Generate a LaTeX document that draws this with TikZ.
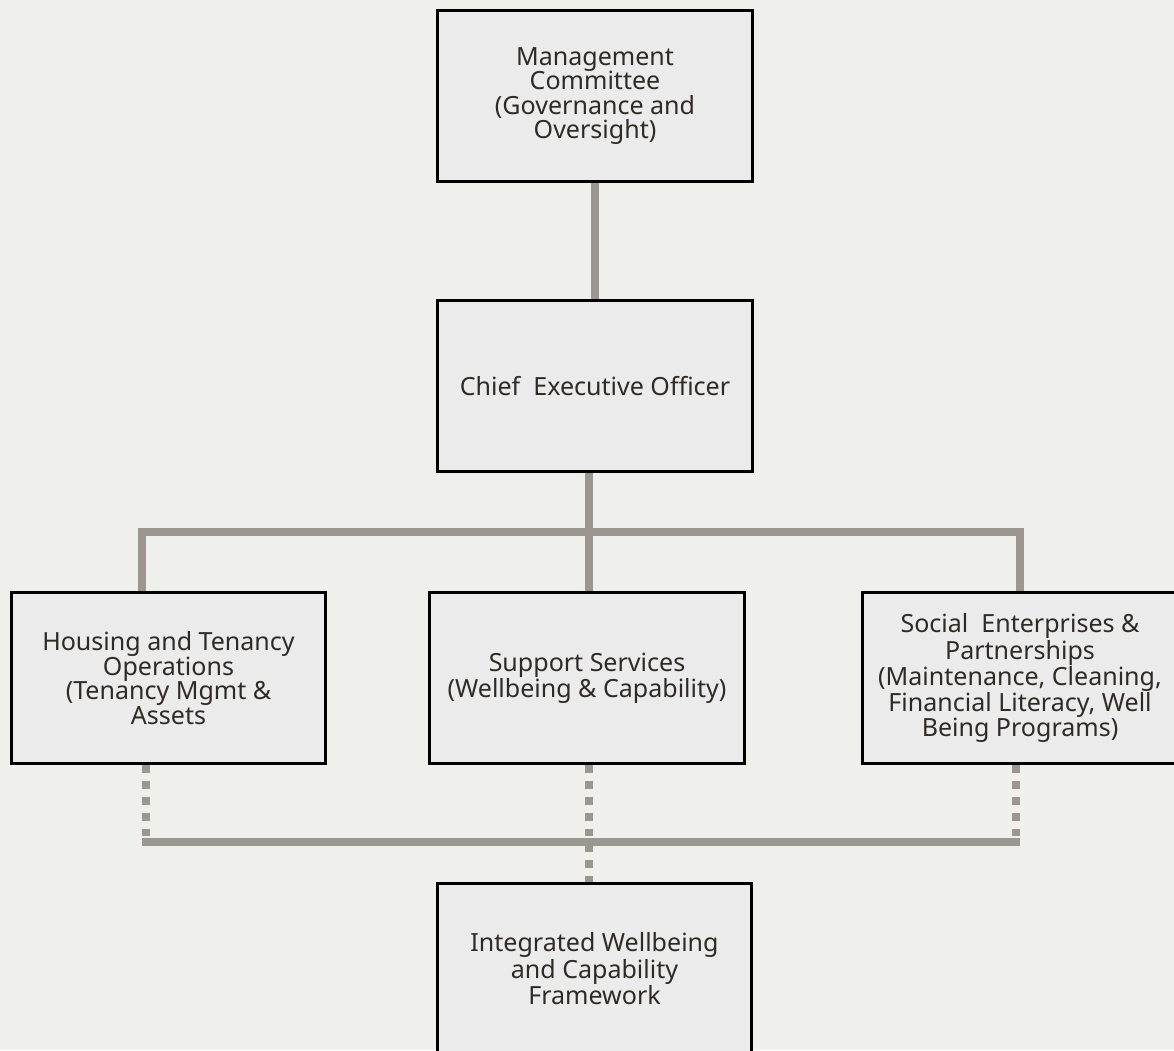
\documentclass[tikz,border=0pt]{standalone}
\usepackage{fontspec}
\setmainfont{Noto Sans}
\usetikzlibrary{positioning}
\definecolor{paper}{HTML}{EFEFEB}
\definecolor{boxfill}{HTML}{EBEBEB}
\definecolor{linkgray}{HTML}{9B9790}
\definecolor{ink}{HTML}{2F2A24}
\tikzstyle{unit}=[draw=black,line width=2.1pt,fill=boxfill,text=ink,align=center,minimum width=7.87cm,minimum height=4.28cm,inner sep=0pt,font=\fontsize{17.8}{17.4}\selectfont]
\tikzstyle{link}=[draw=linkgray,line width=5.7pt]
\tikzstyle{dotlink}=[draw=linkgray,line width=5.5pt,dash pattern=on 5.5pt off 5.8pt]

\begin{document}
\begin{tikzpicture}[x=0.025cm,y=-0.025cm]

    % page
    \fill[paper] (0,0) rectangle (1174,1050);
    \useasboundingbox (0,0) rectangle (1174,1050);
    \clip (0,0) rectangle (1174,1050);

    \node[unit] (board) at (595,96) {Management\\Committee\\(Governance and\\Oversight)};
    \node[unit] (ceo) at (595,386) {Chief\ \ Executive Officer};

    \foreach \x/\name/\txt in {168.5/housing/{Housing and Tenancy\\Operations\\ (Tenancy Mgmt \&\\Assets},
                                587/support/{Support Services\\(Wellbeing \& Capability)},
                                1020/social/{Social\ \ Enterprises \&\\Partnerships\\(Maintenance, Cleaning,\\Financial Literacy, Well\\Being Programs)}}
        \node[unit] (\name) at (\x,678) {\txt};

    \node[unit] (framework) at (594.5,969) {Integrated Wellbeing\\and Capability\\Framework};

    % reporting lines
    \coordinate (split) at (589,532);
    \coordinate (left top) at (142,532);
    \coordinate (right top) at (1020,532);
    \coordinate (left low) at (142,842);
    \coordinate (right low) at (1020,842);

    \draw[link] (board) -- (ceo);
    \draw[link] (ceo.south -| split) -- (support.north -| split);
    \draw[link] (housing.north -| left top) -- (left top) -- (right top) -- (social.north -| right top);
    \draw[link] (left low) -- (right low);

    % dotted links to the framework
    \draw[dotlink] (housing.south -| 146,0) -- (146,838);
    \draw[dotlink] (social.south -| 1016,0) -- (1016,838);
    \draw[dotlink] (support.south -| split) -- (framework.north -| split);

\end{tikzpicture}
\end{document}
